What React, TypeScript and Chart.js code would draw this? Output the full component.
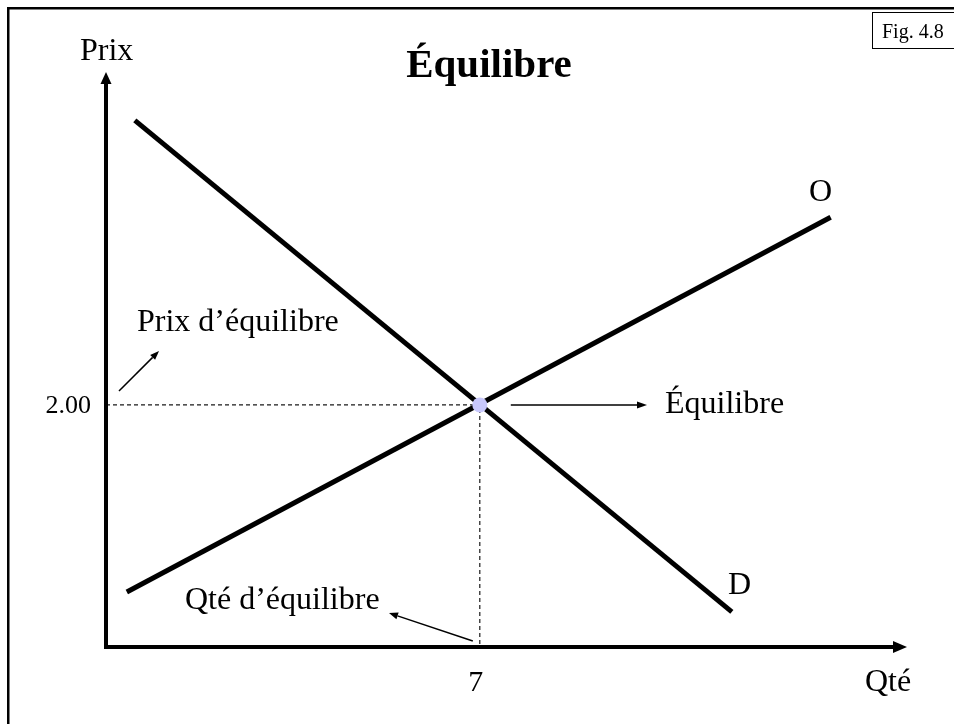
import React, { useEffect, useRef } from 'react';
import { Chart, registerables } from 'chart.js';

Chart.register(...registerables);

// ---- Data ----
const demandQty = [0.54, 11.72];
const demandPrice = [4.35, 0.29];
const supplyQty = [0.39, 13.57];
const supplyPrice = [0.455, 3.55];
const equilibriumQty = [7];
const equilibriumPrice = [2];
const qtyAxisMax = 15;
const priceAxisMax = 4.75;
const priceTickLabels = ['2.00'];
const qtyTickLabels = ['7'];
const curveLabels = ['D', 'O'];
const axisTitles = ['Qté', 'Prix'];
const annotationTexts = ['Prix d\u2019équilibre', 'Équilibre', 'Qté d\u2019équilibre'];
const chartTitle = 'Équilibre';
const figureTag = 'Fig. 4.8';

const SERIF = '"Liberation Serif", "Times New Roman", serif';

function arrow(
  ctx: CanvasRenderingContext2D,
  x1: number, y1: number, x2: number, y2: number,
  lw: number, headLen: number, headW: number
) {
  const ang = Math.atan2(y2 - y1, x2 - x1);
  const bx = x2 - Math.cos(ang) * headLen;
  const by = y2 - Math.sin(ang) * headLen;
  ctx.save();
  ctx.strokeStyle = '#000';
  ctx.fillStyle = '#000';
  ctx.lineWidth = lw;
  ctx.setLineDash([]);
  ctx.beginPath();
  ctx.moveTo(x1, y1);
  ctx.lineTo(bx, by);
  ctx.stroke();
  const nx = -Math.sin(ang) * headW / 2;
  const ny = Math.cos(ang) * headW / 2;
  ctx.beginPath();
  ctx.moveTo(x2, y2);
  ctx.lineTo(bx + nx, by + ny);
  ctx.lineTo(bx - nx, by - ny);
  ctx.closePath();
  ctx.fill();
  ctx.restore();
}

function text(
  ctx: CanvasRenderingContext2D, s: string, x: number, y: number,
  size: number, align: CanvasTextAlign = 'left', bold = false
) {
  ctx.save();
  ctx.fillStyle = '#000';
  ctx.font = `${bold ? 'bold ' : ''}${size}px ${SERIF}`;
  ctx.textAlign = align;
  ctx.textBaseline = 'alphabetic';
  ctx.fillText(s, x, y);
  ctx.restore();
}

const decorPlugin = {
  id: 'decor',
  afterDatasetsDraw(chart: any) {
    const ctx: CanvasRenderingContext2D = chart.ctx;
    const xs = chart.scales.x;
    const ys = chart.scales.y;
    const px = (v: number) => xs.getPixelForValue(v);
    const py = (v: number) => ys.getPixelForValue(v);
    const x0 = px(0);
    const y0 = py(0);

    // outer frame (top and left edges visible)
    ctx.save();
    ctx.strokeStyle = '#000';
    ctx.lineWidth = 2.5;
    ctx.beginPath();
    ctx.moveTo(8.25, 724);
    ctx.lineTo(8.25, 8.25);
    ctx.lineTo(954, 8.25);
    ctx.stroke();
    ctx.restore();

    // Fig box
    ctx.save();
    ctx.strokeStyle = '#000';
    ctx.lineWidth = 1;
    ctx.strokeRect(872.5, 12.5, 100, 36);
    ctx.restore();
    text(ctx, figureTag, 882, 38, 20);

    // axes with arrows
    arrow(ctx, x0, y0 + 2, x0, py(priceAxisMax), 4, 12, 11);
    arrow(ctx, x0 - 2, y0, px(qtyAxisMax), y0, 4, 14, 12);

    // title
    text(ctx, chartTitle, 489, 77, 41, 'center', true);

    // axis titles
    text(ctx, axisTitles[1], 80, 60, 32);
    text(ctx, axisTitles[0], 865, 691, 32);

    // tick labels
    text(ctx, priceTickLabels[0], x0 - 15, py(equilibriumPrice[0]) + 8, 26, 'right');
    text(ctx, qtyTickLabels[0], px(equilibriumQty[0]) - 4, 691, 30, 'center');

    // curve labels
    text(ctx, curveLabels[0], 728, 594, 32);
    text(ctx, curveLabels[1], 809, 201, 32);

    // annotations
    const ex = px(equilibriumQty[0]);
    const ey = py(equilibriumPrice[0]);
    text(ctx, annotationTexts[0], 137, 331, 32);
    arrow(ctx, 119, 391, 159, 351, 1.5, 9, 7);
    arrow(ctx, ex + 31, ey, 647, ey, 1.5, 10, 7);
    text(ctx, annotationTexts[1], 665, 413, 32);
    text(ctx, annotationTexts[2], 185, 609, 32);
    arrow(ctx, ex - 7, y0 - 6, 389, 613, 1.5, 9, 7);
  },
};

export default function App() {
  const ref = useRef<HTMLCanvasElement | null>(null);

  useEffect(() => {
    if (!ref.current) return;
    const pts = (xs: number[], ys: number[]) => xs.map((x, i) => ({ x, y: ys[i] }));
    const chart = new Chart(ref.current, {
      type: 'scatter',
      data: {
        datasets: [
          {
            label: 'Équilibre',
            data: pts(equilibriumQty, equilibriumPrice),
            pointRadius: 7.5,
            pointBackgroundColor: '#c8c8fc',
            pointBorderWidth: 0,
            showLine: false,
            order: 0,
          },
          {
            label: 'D',
            data: pts(demandQty, demandPrice),
            showLine: true,
            borderColor: '#000',
            borderWidth: 5,
            pointRadius: 0,
            order: 1,
          },
          {
            label: 'O',
            data: pts(supplyQty, supplyPrice),
            showLine: true,
            borderColor: '#000',
            borderWidth: 5,
            pointRadius: 0,
            order: 1,
          },
          {
            label: 'guides',
            data: [
              { x: 0, y: equilibriumPrice[0] },
              { x: equilibriumQty[0], y: equilibriumPrice[0] },
              { x: equilibriumQty[0], y: 0 },
            ],
            showLine: true,
            borderColor: '#1a1a1a',
            borderWidth: 1.2,
            borderDash: [4, 3],
            pointRadius: 0,
            order: 2,
          },
        ],
      },
      options: {
        animation: false,
        responsive: false,
        devicePixelRatio: 1,
        layout: { padding: { left: 106, right: 47, top: 72, bottom: 77 } },
        plugins: { legend: { display: false }, tooltip: { enabled: false } },
        scales: {
          x: { type: 'linear', min: 0, max: qtyAxisMax, display: false },
          y: { type: 'linear', min: 0, max: priceAxisMax, display: false },
        },
      },
      plugins: [decorPlugin],
    });
    return () => chart.destroy();
  }, []);

  return (
    <div style={{ position: 'fixed', left: 0, top: 0, width: 954, height: 724, background: '#fff' }}>
      <canvas ref={ref} width={954} height={724} style={{ display: 'block' }} />
    </div>
  );
}
